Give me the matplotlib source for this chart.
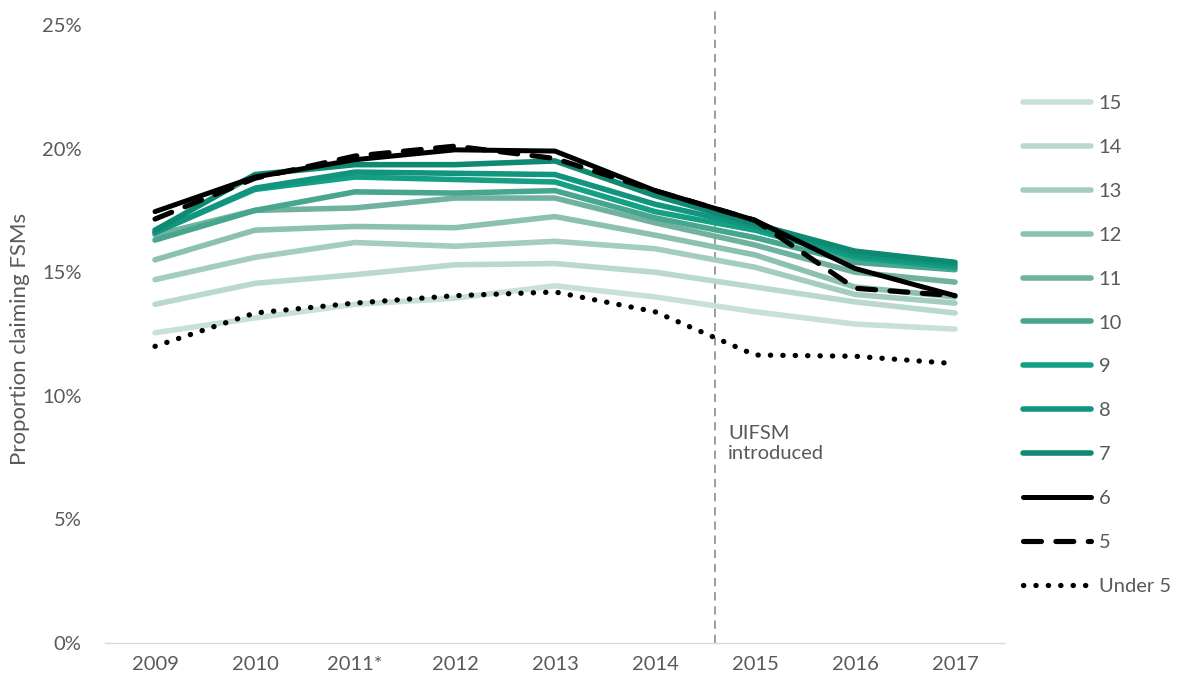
import matplotlib
matplotlib.use("Agg")
import matplotlib.pyplot as plt

years = ["2009", "2010", "2011*", "2012", "2013", "2014", "2015", "2016", "2017"]

under5 = [12.0, 13.35, 13.75, 14.05, 14.2, 13.4, 11.65, 11.6, 11.3]
age5 = [17.15, 18.8, 19.7, 20.1, 19.6, 18.3, 17.1, 14.35, 14.05]
age6 = [17.45, 18.85, 19.55, 19.95, 19.9, 18.3, 17.1, 15.15, 14.05]
age7 = [16.7, 18.95, 19.35, 19.35, 19.5, 18.1, 16.95, 15.85, 15.4]
age8 = [16.6, 18.4, 19.05, 19.0, 18.95, 17.75, 16.85, 15.7, 15.3]
age9 = [16.6, 18.35, 18.85, 18.75, 18.65, 17.45, 16.7, 15.6, 15.2]
age10 = [16.3, 17.5, 18.25, 18.2, 18.3, 17.2, 16.4, 15.4, 15.1]
age11 = [16.5, 17.5, 17.6, 18.0, 18.0, 17.0, 16.1, 15.0, 14.6]
age12 = [15.5, 16.7, 16.85, 16.8, 17.25, 16.5, 15.7, 14.4, 14.0]
age13 = [14.7, 15.6, 16.2, 16.05, 16.25, 15.95, 15.2, 14.1, 13.75]
age14 = [13.7, 14.55, 14.9, 15.3, 15.35, 15.0, 14.4, 13.8, 13.35]
age15 = [12.55, 13.15, 13.7, 13.95, 14.45, 14.0, 13.4, 12.9, 12.7]

teal_labels = ["15", "14", "13", "12", "11", "10", "9", "8", "7"]
teal_series = [age15, age14, age13, age12, age11, age10, age9, age8, age7]
teal_colors = ["#c9e0d9", "#bad8ce", "#a4ccbf", "#8cc0af", "#70b29f", "#48a68e",
               "#14a085", "#12957f", "#0e8a73"]

yticks = [0, 5, 10, 15, 20, 25]
ytick_labels = ["0%", "5%", "10%", "15%", "20%", "25%"]

text_color = "#595959"
fs = 14.5
plt.rcParams['font.family'] = ['Lato', 'DejaVu Sans']

fig = plt.figure(figsize=(11.84, 6.88), dpi=100)
ax = fig.add_axes([105 / 1184, 1 - 643 / 688, 900 / 1184, (643 - 25) / 688])

x = list(range(len(years)))
handles = []
for lab, ser, col in zip(teal_labels, teal_series, teal_colors):
    h, = ax.plot(x, ser, color=col, lw=4.0, solid_capstyle='round',
                 solid_joinstyle='round', label=lab)
    handles.append(h)

h6, = ax.plot(x, age6, color='black', lw=3.6, solid_capstyle='round',
              solid_joinstyle='round', label='6')
h5, = ax.plot(x, age5, color='black', lw=3.7, dash_capstyle='round',
              linestyle=(0, (3.5, 2.8)), label='5')
hu, = ax.plot(x, under5, color='black', lw=3.8, dash_capstyle='round',
              linestyle=(0, (0.05, 2.3)), label='Under 5')
handles += [h6, h5, hu]

# policy line
ax.axvline(5.6, ymin=0, ymax=(643 - 8) / (643 - 25), color='#8c8c8c', lw=1.2,
           linestyle=(0, (5, 3.5)), clip_on=False, zorder=0)
ax.text(5.73, 8.8, "UIFSM\nintroduced", color=text_color, fontsize=fs,
        va='top', ha='left', linespacing=1.2)

ax.set_xlim(-0.5, len(years) - 0.5)
ax.set_ylim(0, 25)
ax.set_xticks(x)
ax.set_xticklabels(years)
ax.set_yticks(yticks)
ax.set_yticklabels(ytick_labels)
ax.tick_params(axis='both', length=0, labelsize=fs, colors=text_color)
ax.tick_params(axis='y', pad=17)
ax.tick_params(axis='x', pad=9)
for s in ['top', 'right', 'left']:
    ax.spines[s].set_visible(False)
ax.spines['bottom'].set_color('#d9d9d9')
ax.spines['bottom'].set_linewidth(1.0)

fig.text(20 / 1184, 1 - 339 / 688, "Proportion claiming FSMs", rotation=90,
         color=text_color, fontsize=16, va='center', ha='center')

leg = fig.legend(handles=handles, labels=[h.get_label() for h in handles],
                 loc='upper left', bbox_to_anchor=(1023 / 1184, 1 - 95 / 688),
                 frameon=False, fontsize=fs, handlelength=3.4,
                 handletextpad=0.35, labelspacing=1.33, borderpad=0,
                 borderaxespad=0)
for t in leg.get_texts():
    t.set_color(text_color)

fig.savefig("out.png", dpi=100)
